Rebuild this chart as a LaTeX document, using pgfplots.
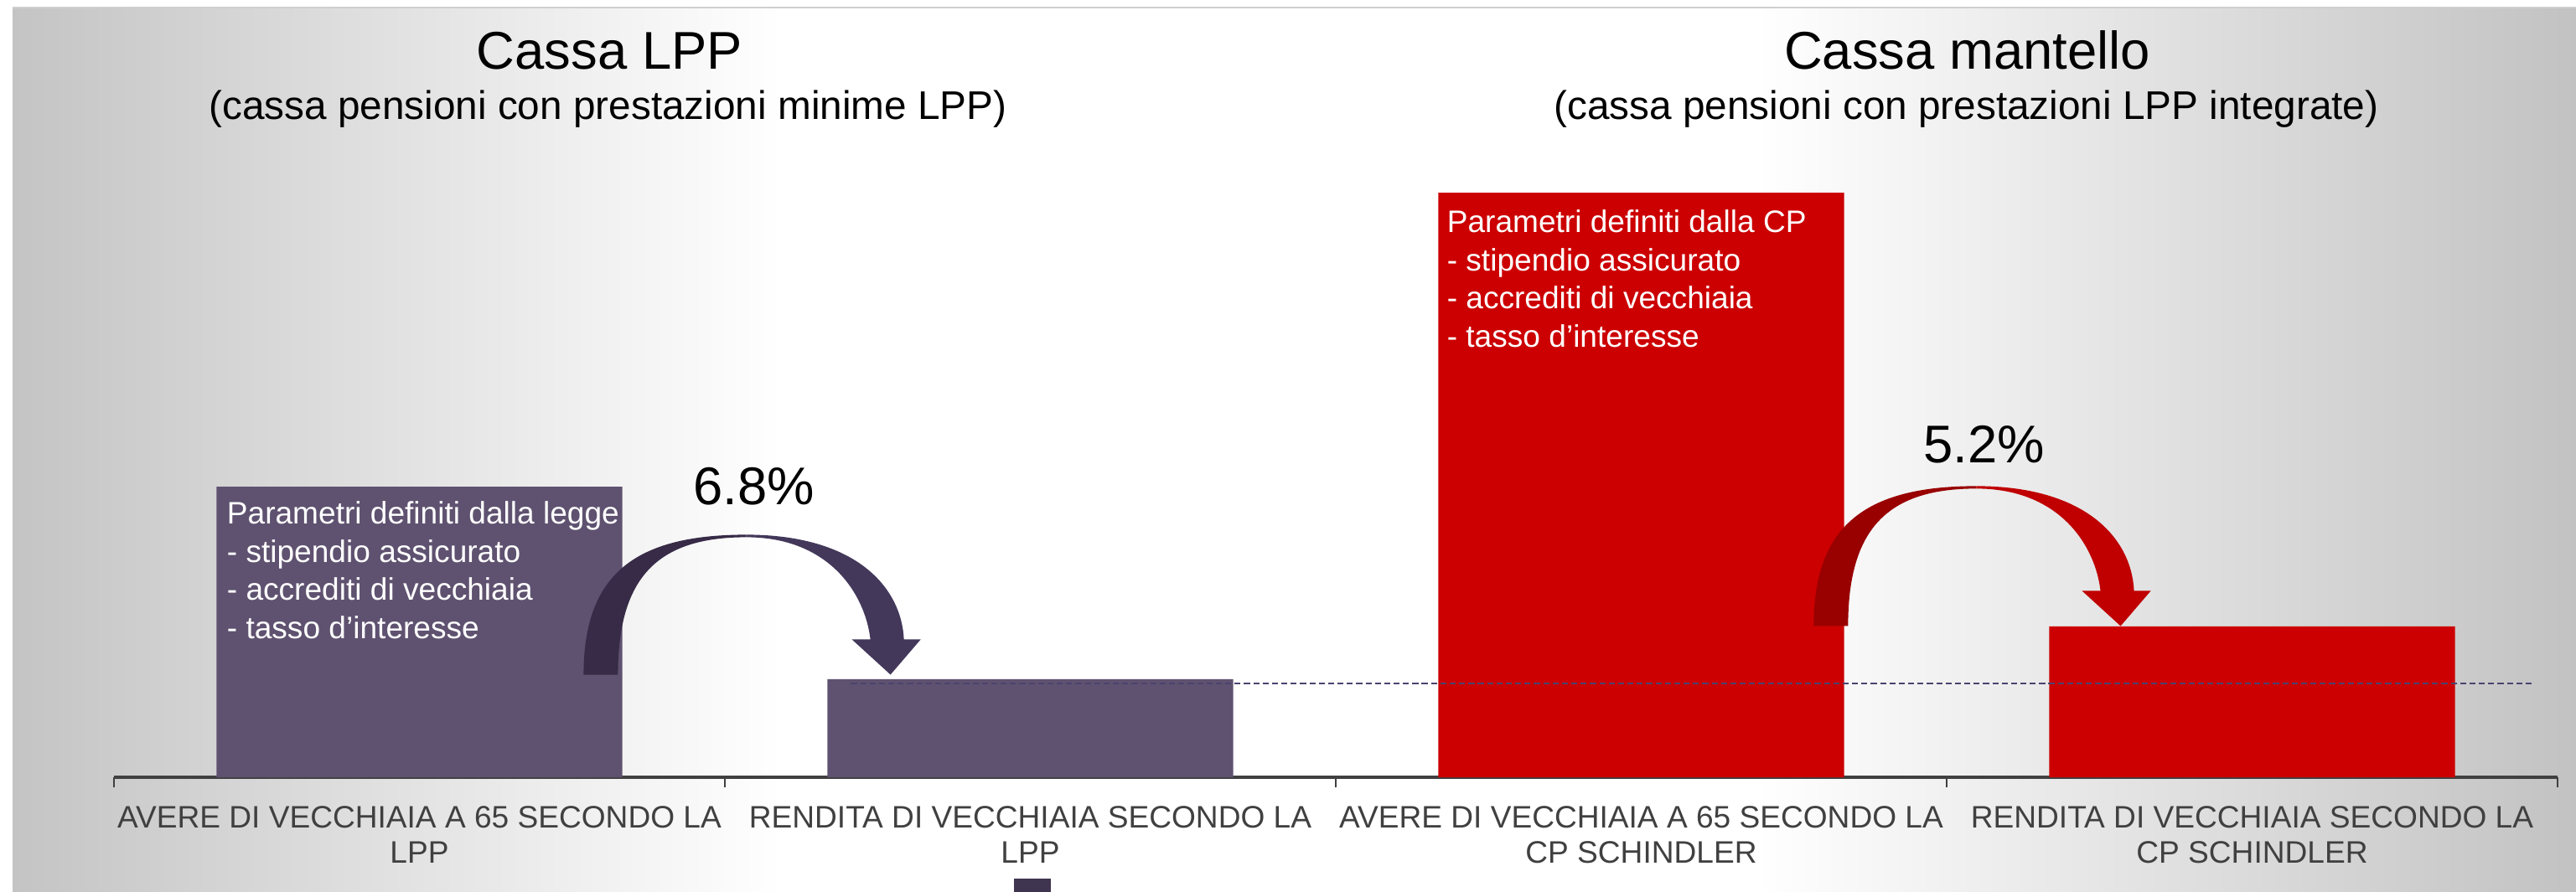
\documentclass[border=0pt]{standalone}
\usepackage{pgfplots}
\pgfplotsset{compat=1.18}
\usepackage{fontspec}
\setmainfont{Liberation Sans}

\definecolor{bgleft}{HTML}{C4C4C4}
\definecolor{bgright}{HTML}{C2C2C2}
\definecolor{topline}{HTML}{CFCFCF}
\definecolor{barpurple}{HTML}{5F5270}
\definecolor{barred}{HTML}{CC0000}
\definecolor{arrowpdark}{HTML}{372B47}
\definecolor{arrowplight}{HTML}{43385A}
\definecolor{arrowrdark}{HTML}{990000}
\definecolor{arrowrlight}{HTML}{C00000}
\definecolor{dashcol}{HTML}{4B4370}
\definecolor{axisgray}{HTML}{404040}
\definecolor{legendsq}{HTML}{3F3550}

\pgfdeclarehorizontalshading{bgshade}{100bp}{color(0bp)=(bgleft); color(25bp)=(bgleft); color(40bp)=(white); color(59bp)=(white); color(75bp)=(bgright); color(100bp)=(bgright)}

\newcommand\titlefont{\fontsize{17.6}{21}\selectfont}
\newcommand\subfont{\fontsize{13.25}{16}\selectfont}
\newcommand\labelfont{\fontsize{10.3}{11.7}\selectfont}
\newcommand\pctfont{\fontsize{17.6}{21}\selectfont}

\begin{document}
\begin{tikzpicture}
\useasboundingbox (-1.32726cm,-1.32726cm) rectangle (28.6727cm,9.05663cm);

% background, in reference pixels
\begin{scope}[x=0.0097593cm, y=-0.0097593cm, shift={(-1.32726cm,9.05663cm)}]
\fill[white] (0,0) rectangle (3074,1064);
\shade[shading=bgshade] (15,9) rectangle (3074,1064);
\draw[topline, line width=0.6pt] (15,9) -- (3074,9);
\end{scope}

\begin{axis}[
    scale only axis,
    width=28.458cm,
    height=6.812cm,
    xmin=-0.5, xmax=3.5,
    ymin=0, ymax=100,
    axis x line*=bottom,
    axis y line=none,
    axis line style={axisgray, line width=1.1pt},
    xtick={0,1,2,3},
    xticklabels={{AVERE DI VECCHIAIA A 65 SECONDO LA\\LPP},
                 {RENDITA DI VECCHIAIA SECONDO LA\\LPP},
                 {AVERE DI VECCHIAIA A 65 SECONDO LA\\CP SCHINDLER},
                 {RENDITA DI VECCHIAIA SECONDO LA\\CP SCHINDLER}},
    xticklabel style={font=\labelfont, text=axisgray, align=center, inner sep=0pt, yshift=-9.3pt},
    tick align=inside,
    major tick length=2pt,
    tick style={axisgray, line width=0.8pt},
    extra x ticks={-0.5,0.5,1.5,2.5,3.5},
    extra x tick labels={},
    extra x tick style={tick align=outside, major tick length=3.4pt},
    ytick=\empty,
]
\addplot[ybar, bar width=0.664, bar shift=0pt, fill=barpurple, draw=none] coordinates {(0,49.7) (1,16.8)};
\addplot[ybar, bar width=0.664, bar shift=0pt, fill=barred, draw=none] coordinates {(2,100) (3,25.8)};
\addplot[sharp plot, no marks, dashcol, line width=0.55pt, dash pattern=on 2pt off 1.1pt] coordinates {(0.7064,16.05) (3.4609,16.05)};
\end{axis}

% annotations, in reference pixels
\begin{scope}[x=0.0097593cm, y=-0.0097593cm, shift={(-1.32726cm,9.05663cm)}]
\node[anchor=base, inner sep=0pt, font=\titlefont] at (727,82) {Cassa LPP};
\node[anchor=base, inner sep=0pt, font=\titlefont] at (2346,82) {Cassa mantello};
\node[anchor=base, inner sep=0pt, font=\subfont] at (725,142) {(cassa pensioni con prestazioni minime LPP)};
\node[anchor=base, inner sep=0pt, font=\subfont] at (2345,142) {(cassa pensioni con prestazioni LPP integrate)};

\begin{scope}[every node/.style={anchor=base west, inner sep=0pt, font=\labelfont, text=white}]
\node at (270,625) {Parametri definiti dalla legge};
\node at (270,671) {- stipendio assicurato};
\node at (270,716) {- accrediti di vecchiaia};
\node at (270,762) {- tasso d’interesse};
\node at (1725,277) {Parametri definiti dalla CP};
\node at (1725,323) {- stipendio assicurato};
\node at (1725,368) {- accrediti di vecchiaia};
\node at (1725,414) {- tasso d’interesse};
\end{scope}

% curved arrows
\fill[arrowpdark] (696,805) .. controls (696,688) and (754,638) .. (890,638) -- (890,641) .. controls (783,641) and (737,690) .. (737,805) -- cycle;
\fill[arrowplight] (890,638) .. controls (1020,638) and (1075,700) .. (1078,763) -- (1098,763) -- (1062,805) -- (1016,763) -- (1038,763) .. controls (1032,710) and (990,641) .. (890,641) -- cycle;
\begin{scope}[shift={(1467,-58)}]
\fill[arrowrdark] (696,805) .. controls (696,688) and (754,638) .. (890,638) -- (890,641) .. controls (783,641) and (737,690) .. (737,805) -- cycle;
\fill[arrowrlight] (890,638) .. controls (1020,638) and (1075,700) .. (1078,763) -- (1098,763) -- (1062,805) -- (1016,763) -- (1038,763) .. controls (1032,710) and (990,641) .. (890,641) -- cycle;
\end{scope}

\node[anchor=base, inner sep=0pt, font=\pctfont] at (899,602) {6.8\%};
\node[anchor=base, inner sep=0pt, font=\pctfont] at (2366,552) {5.2\%};

\fill[legendsq] (1209,1048) rectangle (1253,1064);
\end{scope}
\end{tikzpicture}
\end{document}
